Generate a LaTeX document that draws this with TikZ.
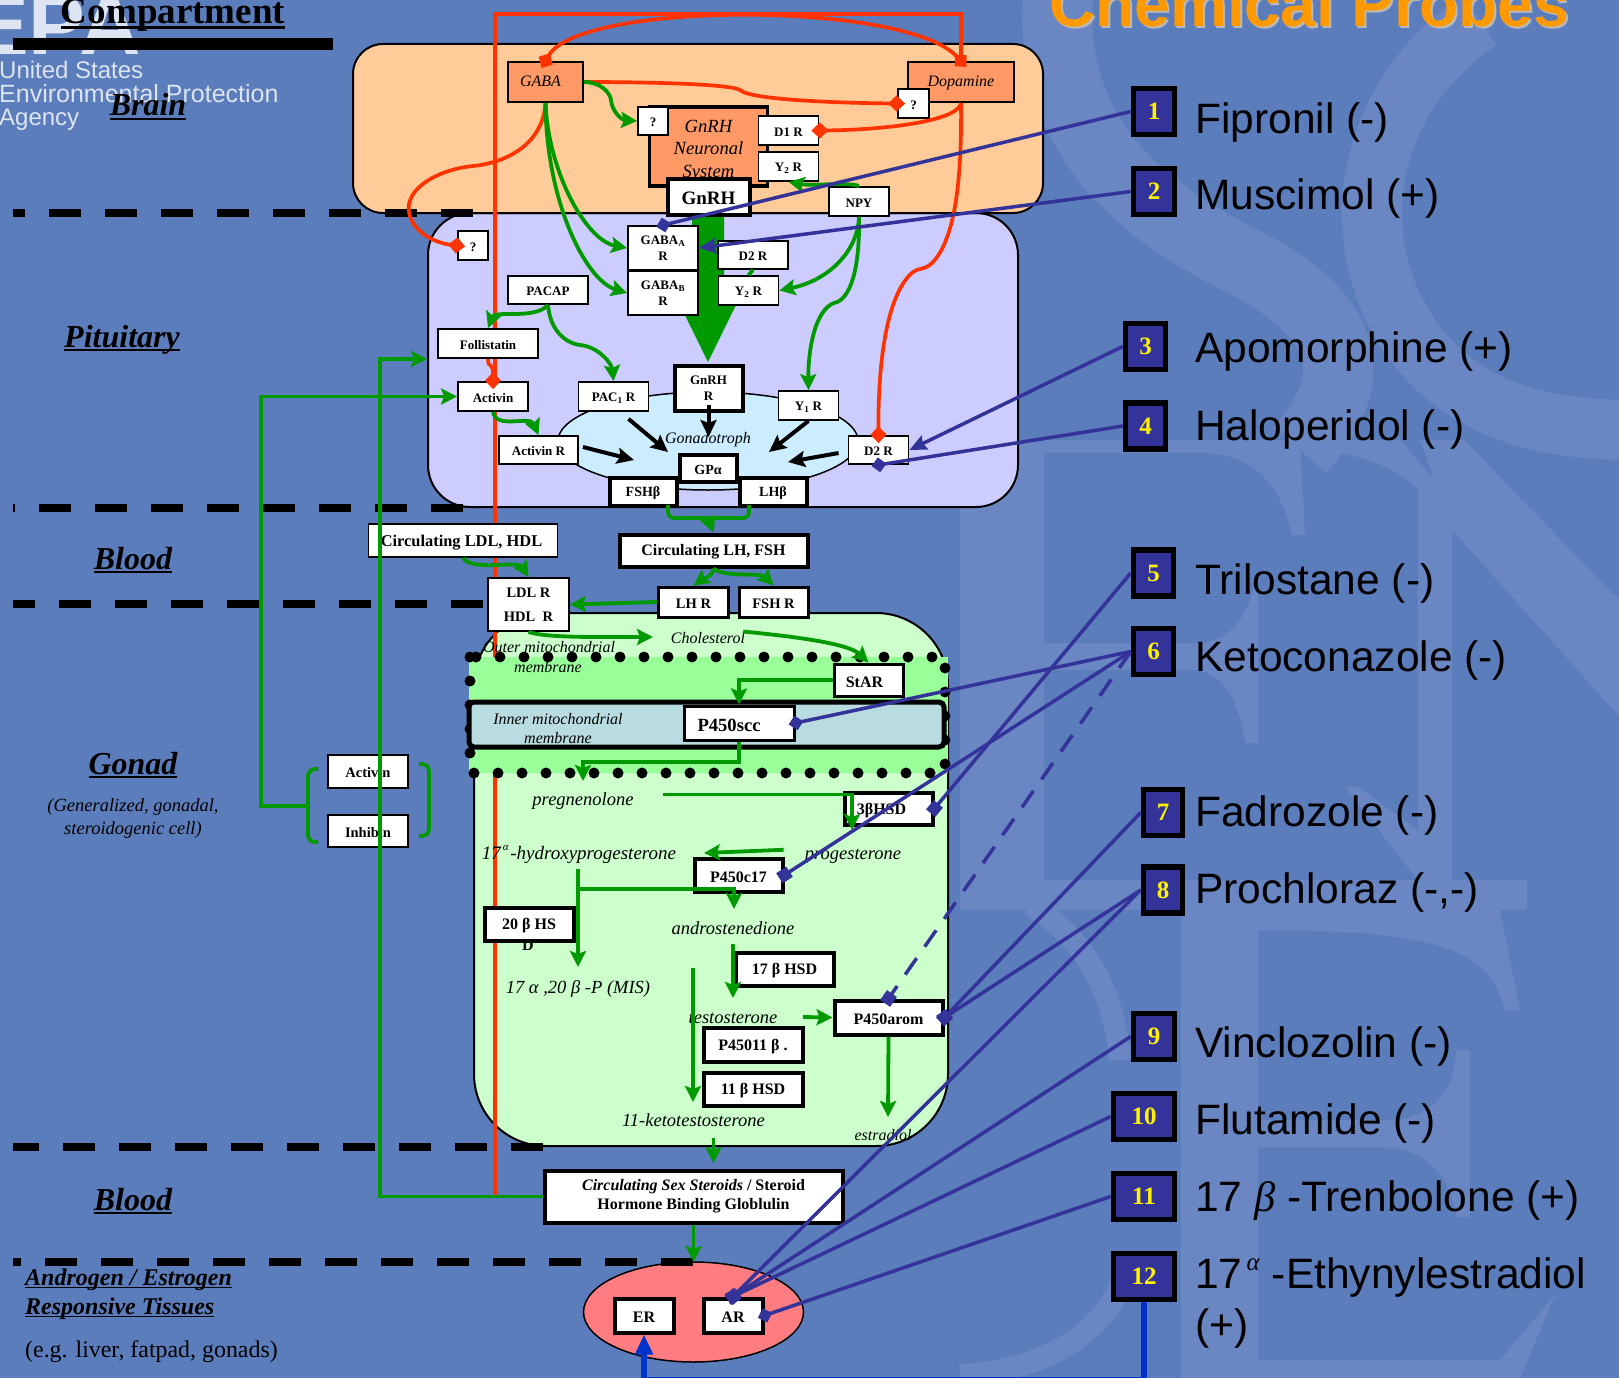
\documentclass[tikz,border=0pt]{standalone}
\usepackage{fontspec}
\setmainfont{Liberation Serif}
\newfontfamily\probefont{Liberation Sans}
\usetikzlibrary{calc,arrows.meta}

\definecolor{bgblue}{HTML}{5B7DBB}
\definecolor{wmblue}{HTML}{6A87C3}
\definecolor{brainfill}{HTML}{FFCC99}
\definecolor{pitfill}{HTML}{CCCCFF}
\definecolor{gonadfill}{HTML}{CCFFCC}
\definecolor{bandfill}{HTML}{99FF99}
\definecolor{innerfill}{HTML}{B9DCE1}
\definecolor{cellfill}{HTML}{CCECFF}
\definecolor{orangefill}{HTML}{FF9966}
\definecolor{tissuefill}{HTML}{FF7C80}
\definecolor{redline}{HTML}{FF3300}
\definecolor{greenline}{HTML}{009900}
\definecolor{probeblue}{HTML}{333399}
\definecolor{deepblue}{HTML}{0033CC}
\definecolor{logowhite}{HTML}{DDE4F2}
\definecolor{titleorange}{HTML}{FF9900}

\newcommand{\fs}[1]{\fontsize{#1}{1.2\dimexpr#1pt\relax}\selectfont}
\newcommand{\ulbox}[1]{\setbox0\hbox{#1}\rlap{\raisebox{-.13em}{\rule{\wd0}{.065em}}}\box0}

\tikzset{
  box/.style={draw=black,fill=white,line width=1.8pt,inner sep=0pt,align=center,font=\fs{13}\bfseries,
    execute at begin node={\rule{0pt}{.9em}}},
  thickbox/.style={box,line width=4pt,font=\fs{16}\bfseries},
  probebox/.style={draw=black,fill=probeblue,line width=5.5pt,inner sep=0pt,text=yellow,font=\fs{25}\bfseries},
  probelabel/.style={anchor=base west,inner sep=0pt,font=\probefont\fs{42.5}},
  seclabel/.style={anchor=base,inner sep=0pt,font=\fs{32}\bfseries\itshape},
  chem/.style={anchor=base,inner sep=0pt,font=\fs{18.5}\itshape},
  greenarrow/.style={draw=greenline,line width=3.8pt,-{Stealth[length=16pt,width=16pt,inset=3pt]}},
  greenplain/.style={draw=greenline,line width=3.8pt},
  blackarrow/.style={draw=black,line width=4pt,-{Stealth[length=17pt,width=16pt,inset=3pt]}},
  redinhibit/.style={draw=redline,line width=3.7pt,shorten >=-8pt,-{Diamond[length=17pt,width=16pt]}},
  redplain/.style={draw=redline,line width=3.7pt},
  probeline/.style={draw=probeblue,line width=3.5pt},
  probediamond/.style={probeline,shorten >=-7pt,-{Diamond[length=15pt,width=15pt]}},
  probesquare/.style={probeline,shorten >=-6pt,-{Square[length=12pt,width=12pt]}},
  probearrow/.style={probeline,-{Stealth[length=17pt,width=15pt,inset=2pt]}},
  blackdash/.style={draw=black,line width=8pt,dash pattern=on 32pt off 24pt},
  memdots/.style={draw=black,line width=11pt,line cap=round,dash pattern=on 0pt off 24pt},
  watermark/.style={draw=wmblue,line cap=butt},
}

\begin{document}
\begin{tikzpicture}[x=1pt,y=-1pt]
  \useasboundingbox (0,0) rectangle (1619,1378);
  \clip (0,0) rectangle (1619,1378);
  \fill[bgblue] (0,0) rectangle (1619,1378);

  % watermark behind everything
  \draw[watermark,line width=70pt] (1060,-20) .. controls (1040,130) and (1140,210) .. (1240,260)
    .. controls (1340,310) and (1370,370) .. (1300,450);
  \draw[watermark,line width=60pt] (1480,20) .. controls (1360,100) and (1340,250) .. (1420,350)
    .. controls (1480,420) and (1560,430) .. (1640,430);
  \fill[wmblue] (960,440) rectangle (1044,880);
  \fill[wmblue] (1044,440) -- (1300,440) -- (1305,535) -- (1292,535)
    .. controls (1280,480) and (1250,453) .. (1200,453) -- (1044,453) -- cycle;
  \fill[wmblue] (1044,643) -- (1200,643) .. controls (1235,640) and (1250,610) .. (1255,580)
    -- (1258,580) -- (1258,743) -- (1245,743) .. controls (1238,700) and (1225,670) .. (1190,670) -- (1044,670) -- cycle;
  \fill[wmblue] (1300,440) -- (1400,440) -- (1452,500) -- (1452,880) -- (1418,880) -- (1418,490)
    .. controls (1390,460) and (1340,450) .. (1300,450) -- cycle;
  \fill[wmblue] (1452,530) -- (1619,716) -- (1619,600) -- (1464,440) -- (1420,440) -- cycle;
  \fill[wmblue] (1345,787) -- (1358,787) -- (1418,830) -- (1418,880) -- cycle;

  \fill[wmblue] (960,880) rectangle (1527,910);
  \fill[wmblue] (1181,910) rectangle (1258,1378);
  \fill[wmblue] (1258,910) -- (1500,910) -- (1520,1010) -- (1505,1010)
    .. controls (1490,950) and (1440,930) .. (1258,930) -- cycle;
  \fill[wmblue] (1258,1120) -- (1400,1120) .. controls (1445,1110) and (1455,1080) .. (1456,1050)
    -- (1470,1050) -- (1470,1217) -- (1456,1217) .. controls (1450,1170) and (1420,1147) .. (1380,1147)
    -- (1258,1147) -- cycle;
  \fill[wmblue] (1258,1360) -- (1500,1360) -- (1555,1295) -- (1520,1378) -- (1258,1378) -- cycle;
  \draw[watermark,line width=22pt] (1030,905) .. controls (1090,940) and (1115,1000) .. (1120,1060);
  \draw[watermark,line width=22pt] (960,1375) .. controls (1060,1370) and (1110,1320) .. (1122,1280);

  % logo
  \node[anchor=base west,inner sep=0pt,text=logowhite,font=\probefont\fs{85}\bfseries] (logoletters) at (-28,55) {EPA};
  \node[anchor=base west,inner sep=0pt,text=logowhite,font=\probefont\fs{24}] (logoa) at (-1,79) {United States};
  \node[anchor=base west,inner sep=0pt,text=logowhite,font=\probefont\fs{25}] (logob) at (-1,103) {Environmental Protection};
  \node[anchor=base west,inner sep=0pt,text=logowhite,font=\probefont\fs{24}] (logoc) at (-1,125) {Agency};

  % compartments
  \draw[fill=pitfill,line width=2pt,rounded corners=42pt] (428,213) rectangle (1018,507);
  \draw[fill=brainfill,line width=2pt,rounded corners=30pt] (353,44) rectangle (1043,213);
  \draw[fill=gonadfill,line width=2pt,rounded corners=72pt] (474,613) rectangle (948,1146);

  \coordinate (redfoot) at (495,1196);
  \coordinate (redleft) at (495,14);
  \coordinate (redright) at (961,14);

  % red line runs under the band and the boxes
  \draw[redplain] (redfoot) -- (redleft) -- (redright) -- (961,62);

  \fill[bandfill] (469,657) rectangle (948,773);
  \draw[memdots] (470,657) rectangle (945,773);
  \draw[fill=innerfill,line width=5pt,rounded corners=5pt] (469,702) rectangle (944,747);

  \fill[cellfill,draw=black,line width=1.5pt] (708,441) ellipse [x radius=150pt,y radius=49pt];
  \fill[tissuefill,draw=black,line width=1.5pt] (693.5,1312) ellipse [x radius=110pt,y radius=50pt];

  % big GnRH arrow
  \fill[greenline] (692,214) -- (724,214) -- (724,305) -- (736,305) -- (708,362) -- (680,305) -- (692,305) -- cycle;

  % dashed borders
  \draw[blackdash,dash phase=20pt] (13,213) -- (473,213);
  \draw[blackdash,dash phase=30pt] (13,508) -- (463,508);
  \draw[blackdash,dash phase=10pt] (13,604) -- (484,604);
  \draw[blackdash,dash phase=6pt] (13,1147) -- (543,1147);
  \draw[blackdash,dash phase=24pt] (13,1262) -- (693,1262);
  \fill[black] (13,38) rectangle (333,50);

  % left column labels
  \node[anchor=base,inner sep=0pt,font=\fs{37}\bfseries] (comptitle) at (173,24) {\ulbox{Compartment}};
  \node[seclabel] (brainlab) at (148,116) {\ulbox{Brain}};
  \node[seclabel] (pitlab) at (122,347) {\ulbox{Pituitary}};
  \node[seclabel] (bloodlab) at (133,569) {\ulbox{Blood}};
  \node[seclabel] (gonadlab) at (133,774) {\ulbox{Gonad}};
  \node[anchor=base,inner sep=0pt,align=center,font=\fs{18.5}\itshape] (gonadsub) at (133,811) {(Generalized, gonadal,};
  \node[anchor=base,inner sep=0pt,align=center,font=\fs{18.5}\itshape] (gonadsubb) at (133,834) {steroidogenic cell)};
  \node[seclabel] (bloodlabb) at (133,1210) {\ulbox{Blood}};
  \node[anchor=base west,inner sep=0pt,font=\fs{24}\bfseries\itshape] (tissuelab) at (25,1285) {\ulbox{Androgen / Estrogen}};
  \node[anchor=base west,inner sep=0pt,font=\fs{24}\bfseries\itshape] (tissuelabb) at (25,1314) {\ulbox{Responsive Tissues}};
  \node[anchor=base west,inner sep=0pt,font=\fs{23.9}] (tissuesub) at (25,1357) {(e.g. liver, fatpad, gonads)};

  % brain
  \node[box,fill=orangefill,minimum width=75pt,minimum height=40pt,font=\fs{16}\itshape,execute at begin node={}] (gaba) at (545.5,82) {\raisebox{3pt}{GABA}\hspace*{10pt}};
  \node[box,fill=orangefill,minimum width=106pt,minimum height=40pt,font=\fs{16}\itshape,execute at begin node={}] (dopamine) at (961,82) {\raisebox{2pt}{Dopamine}};
  \node[box,fill=orangefill,line width=3.5pt,minimum width=118pt,minimum height=79pt,font=\fs{18.6}\itshape,
    execute at begin node={\baselineskip=22.5pt}] (gnrhsys) at (708.5,146.5) {\rule{0pt}{21pt}GnRH\\Neuronal\\System};
  \node[box,minimum width=31pt,minimum height=29pt] (qdopa) at (913.5,103.5) {?};
  \node[box,minimum width=30pt,minimum height=28pt] (qgnrh) at (653,121) {?};
  \node[box,minimum width=60pt,minimum height=29pt] (dar) at (788.5,130.5) {D1 R};
  \node[box,minimum width=60pt,minimum height=29pt] (ytr) at (788.5,166.5) {Y\textsubscript{2} R};
  \node[thickbox,minimum width=82pt,minimum height=36pt,font=\fs{19}\bfseries] (gnrh) at (708.5,196.5) {GnRH};
  \node[box,minimum width=60pt,minimum height=29pt] (npy) at (859,201.5) {NPY};

  % pituitary
  \node[box,minimum width=30pt,minimum height=29pt] (qpit) at (473,245.5) {?};
  \node[box,minimum width=70pt,minimum height=44pt] (gabaa) at (663,248) {GABA\textsubscript{A}\\R};
  \node[box,minimum width=70pt,minimum height=44pt] (gabab) at (663,293) {GABA\textsubscript{B}\\R};
  \node[box,minimum width=70pt,minimum height=28pt] (dtr) at (753,255) {D2 R};
  \node[box,minimum width=60pt,minimum height=29pt] (ytrb) at (748.5,290.5) {Y\textsubscript{2} R};
  \node[box,minimum width=80pt,minimum height=28pt] (pacap) at (548,290) {PACAP};
  \node[box,minimum width=100pt,minimum height=29pt] (follistatin) at (488,343.5) {Follistatin};
  \node[box,minimum width=70pt,minimum height=29pt] (activin) at (493,396.5) {Activin};
  \node[box,minimum width=70pt,minimum height=29pt] (pacr) at (613.5,396.5) {PAC\textsubscript{1} R};
  \node[box,line width=4pt,minimum width=68pt,minimum height=45pt] (gnrhr) at (708.5,388) {GnRH\\R};
  \node[box,minimum width=60pt,minimum height=29pt] (yor) at (808.5,405.5) {Y\textsubscript{1} R};
  \node[box,minimum width=79pt,minimum height=28pt] (activinr) at (538.5,450) {Activin R};
  \node[box,minimum width=60pt,minimum height=28pt] (dtrb) at (878.5,450) {D2 R};
  \node[thickbox,minimum width=67pt,minimum height=28pt,font=\fs{14}\bfseries] (fshb) at (643,491.5) {FSHβ};
  \node[thickbox,minimum width=67pt,minimum height=28pt,font=\fs{14}\bfseries] (lhb) at (773,491.5) {LHβ};
  \node[thickbox,minimum width=57pt,minimum height=27pt,font=\fs{14}\bfseries] (gpa) at (708,468) {GPα};
  \node[anchor=center,inner sep=0pt,font=\fs{16}\itshape] (gonadotroph) at (708,440) {Gonadotroph};

  % blood and gonad
  \node[box,minimum width=189pt,minimum height=33pt,font=\fs{16.4}\bfseries] (ldlhdl) at (463,540.5) {Circulating LDL, HDL\hspace*{3pt}};
  \node[thickbox,minimum width=188pt,minimum height=32pt] (lhfsh) at (713.5,550.5) {Circulating LH, FSH};
  \node[box,minimum width=81pt,minimum height=53pt,font=\fs{14.5}\bfseries,
    execute at begin node={\baselineskip=24pt}] (ldlr) at (528.5,604.5) {LDL R\\HDL\ \ R};
  \node[thickbox,line width=3pt,minimum width=70pt,minimum height=30pt,font=\fs{14.5}\bfseries] (lhr) at (693.5,602) {LH R};
  \node[thickbox,line width=3pt,minimum width=69pt,minimum height=30pt,font=\fs{14.5}\bfseries] (fshr) at (773.5,602) {FSH R};
  \node[chem,font=\fs{16}\itshape] (cholesterol) at (708,643) {Cholesterol};
  \node[chem,font=\fs{16}\itshape] (outermem) at (549,652) {Outer mitochondrial};
  \node[chem,font=\fs{16}\itshape] (outermemb) at (548,672) {membrane};
  \node[thickbox,line width=3pt,minimum width=69pt,minimum height=32pt] (star) at (868.5,680) {StAR\hspace*{8pt}};
  \node[chem,font=\fs{16}\itshape] (innermem) at (558,724) {Inner mitochondrial};
  \node[chem,font=\fs{16}\itshape] (innermemb) at (558,743) {membrane};
  \node[thickbox,line width=3pt,minimum width=110pt,minimum height=34pt,font=\fs{18.6}\bfseries] (pscc) at (739,723) {P450scc\hspace*{20pt}};
  \node[box,minimum width=80pt,minimum height=33pt,font=\fs{14.5}\bfseries] (activinb) at (368,771.5) {Activin};
  \node[box,minimum width=80pt,minimum height=32pt,font=\fs{14.5}\bfseries] (inhibin) at (368,831) {Inhibin};
  \node[chem] (pregnenolone) at (583,805) {pregnenolone};
  \node[thickbox,minimum width=88pt,minimum height=32pt] (hsdb) at (888.5,808.5) {3βHSD\hspace*{14pt}};
  \node[chem,font=\fs{19}\itshape] (hydroxy) at (579,859) {17\raisebox{.45em}{\fs{11}\,α\,}-hydroxyprogesterone};
  \node[chem] (progest) at (853,859) {progesterone};
  \node[thickbox,minimum width=88pt,minimum height=33pt] (pcs) at (738.5,875) {P450c17};
  \node[chem] (androst) at (733,934) {androstenedione};
  \node[thickbox,minimum width=89pt,minimum height=33pt] (hsdtw) at (529,924) {20 β HS};
  \node[inner sep=0pt,font=\fs{16}\bfseries] (hsdtwd) at (528,945) {D};
  \node[thickbox,minimum width=98pt,minimum height=33pt] (hsds) at (784.5,969) {17 β HSD};
  \node[chem] (mis) at (578,993) {17 α ,20 β -P (MIS)};
  \node[chem] (testost) at (733,1023) {testosterone};
  \node[thickbox,minimum width=108pt,minimum height=34pt] (parom) at (888.5,1017.5) {P450arom};
  \node[thickbox,minimum width=99pt,minimum height=34pt] (pcel) at (753,1044.5) {P45011 β .};
  \node[thickbox,minimum width=99pt,minimum height=33pt] (hsdel) at (753,1089) {11 β HSD};
  \node[chem] (keto) at (693.5,1126) {11-ketotestosterone};
  \node[chem,font=\fs{16}\itshape] (estradiol) at (883,1140) {estradiol};

  % sex steroids and target tissue
  \node[thickbox,minimum width=298pt,minimum height=52pt] (steroids) at (693.5,1196.5)
    {\textit{Circulating Sex Steroids} / Steroid\\Hormone Binding Globlulin};
  \node[thickbox,minimum width=59pt,minimum height=34pt] (er) at (644,1315.5) {ER};
  \node[thickbox,minimum width=59pt,minimum height=34pt] (ar) at (733,1315.5) {AR};

  % probes
  \node[probebox,minimum width=41pt,minimum height=46pt] (probea) at (1154,111.5) {1};
  \node[probebox,minimum width=41pt,minimum height=46pt] (probeb) at (1154,191.5) {2};
  \node[probebox,minimum width=40pt,minimum height=46pt] (probec) at (1145.5,346.5) {3};
  \node[probebox,minimum width=40pt,minimum height=46pt] (probed) at (1145.5,426) {4};
  \node[probebox,minimum width=40pt,minimum height=46pt] (probee) at (1153.5,573) {5};
  \node[probebox,minimum width=40pt,minimum height=46pt] (probef) at (1153.5,651.5) {6};
  \node[probebox,minimum width=39pt,minimum height=46pt] (probeg) at (1163,812.5) {7};
  \node[probebox,minimum width=39pt,minimum height=46pt] (probeh) at (1163,890) {8};
  \node[probebox,minimum width=41pt,minimum height=46pt] (probei) at (1154,1036.5) {9};
  \node[probebox,minimum width=61pt,minimum height=46pt] (probej) at (1144,1116.5) {10};
  \node[probebox,minimum width=61pt,minimum height=46pt] (probek) at (1144,1196.5) {11};
  \node[probebox,minimum width=61pt,minimum height=46pt] (probel) at (1144,1276.5) {12};

  \node[probelabel] (fipronil) at (1195,133) {Fipronil (-)};
  \node[probelabel] (muscimol) at (1195,209) {Muscimol (+)};
  \node[probelabel] (apomorph) at (1195,362) {Apomorphine (+)};
  \node[probelabel] (haloper) at (1195,440) {Haloperidol (-)};
  \node[probelabel] (trilost) at (1195,594) {Trilostane (-)};
  \node[probelabel] (ketocon) at (1195,671) {Ketoconazole (-)};
  \node[probelabel] (fadroz) at (1195,826) {Fadrozole (-)};
  \node[probelabel] (prochl) at (1195,903) {Prochloraz (-,-)};
  \node[probelabel] (vincloz) at (1195,1057) {Vinclozolin (-)};
  \node[probelabel] (flutam) at (1195,1134) {Flutamide (-)};
  \node[probelabel] (trenb) at (1195,1211) {17 {\rmfamily\itshape β} -Trenbolone (+)};
  \node[probelabel] (ethyn) at (1195,1288) {17\raisebox{.42em}{\rmfamily\itshape\fs{25}\,α\,}\hspace*{8pt}-Ethynylestradiol};
  \node[probelabel] (ethynb) at (1195,1339) {(+)};

  \node[anchor=base,inner sep=0pt,text=gray!55,font=\probefont\fs{64}\bfseries] (titleshadow) at (1311,29) {Chemical Probes};
  \node[anchor=base,inner sep=0pt,text=titleorange,font=\probefont\fs{64}\bfseries] (chemtitle) at (1309,27) {Chemical Probes};

  % red connectors
  \draw[redinhibit,{Diamond[length=17pt,width=16pt]}-{Diamond[length=17pt,width=16pt]},shorten <=-8pt] (gaba.north) .. controls (580,1) and (905,1) .. (dopamine.north);
  \draw[redinhibit] (gaba.south) .. controls (543,145) and (505,163) .. (473,166)
    .. controls (435,170) and (405,190) .. (409,212) .. controls (412,232) and (435,243) .. (qpit.west);
  \draw[redinhibit] (gaba.east) .. controls (650,82) and (730,84) .. (740,90)
    .. controls (750,100) and (840,103) .. (qdopa.west);
  \draw[redinhibit] (dopamine.south) .. controls (958,122) and (880,130) .. (dar.east);
  \draw[redinhibit] (dopamine.south) .. controls (962,180) and (955,240) .. (932,263)
    .. controls (925,270) and (918,268) .. (913,272) .. controls (885,295) and (878,370) .. (dtrb.north);
  \draw[redinhibit] (follistatin.south) .. controls (488,370) and (493,360) .. (activin.north);

  % green connectors in the brain and the pituitary
  \draw[greenarrow] (gaba.east) .. controls (600,82) and (610,92) .. (611,100)
    .. controls (612,112) and (622,120) .. (qgnrh.west);
  \draw[greenarrow] (gaba.south) .. controls (548,170) and (585,240) .. (gabaa.west);
  \draw[greenarrow] (gaba.south) .. controls (546,200) and (585,280) .. (gabab.west);
  \draw[greenarrow] (npy.north) .. controls (850,182) and (810,186) .. (ytr.south);
  \draw[greenarrow] (npy.south) .. controls (858,250) and (830,280) .. (ytrb.east);
  \draw[greenarrow] (npy.south) .. controls (860,270) and (850,300) .. (834,303)
    .. controls (815,310) and (808,350) .. (yor.north);
  \draw[greenplain] (dtr.south) -- (ytrb.north);
  \draw[greenarrow] (pacap.south) .. controls (535,320) and (495,310) .. (follistatin.north);
  \draw[greenarrow] (pacap.south) .. controls (550,330) and (565,343) .. (580,345)
    .. controls (600,347) and (612,365) .. (pacr.north);
  \draw[greenarrow] (activin.south) .. controls (496,430) and (530,415) .. (activinr.north);

  % black arrows in the gonadotroph
  \draw[blackarrow] (gnrhr.south) ++(0,-8) -- (708.5,437);
  \draw[blackarrow] (pacr.south) ++(15,7) -- (668,452);
  \draw[blackarrow] (yor.south) -- (769,452);
  \draw[blackarrow] (activinr.east) ++(4,-3) -- (634,460);
  \draw[blackarrow] (dtrb.west) ++(-9,3) -- (788,462);

  % bracket from FSH and LH
  \coordinate (fsbranch) at (708,518);
  \draw[greenplain,rounded corners=6pt] (668,505) |- (fsbranch) -| (749,505);
  \draw[greenarrow] (fsbranch) -- (lhfsh.north);

  % green connectors in the blood and the gonad
  \draw[greenarrow] (lhfsh.south) .. controls (712,578) and (704,578) .. (lhr.north);
  \draw[greenarrow] (lhfsh.south) .. controls (725,578) and (760,572) .. (fshr.north);
  \draw[greenarrow] (ldlhdl.south) .. controls (472,572) and (518,560) .. (ldlr.north);
  \draw[greenarrow] (lhr.west) -- (ldlr.east);
  \draw[greenarrow] (ldlr.south) .. controls (545,638) and (600,637) .. (653,637);
  \draw[greenarrow] (cholesterol.east) ++(-2,-6) .. controls (810,638) and (850,645) .. (star.north);
  \draw[greenarrow] (star.west) -| (pscc.north);
  \draw[greenarrow] (pscc.south) |- (583,762) -- (583,781);
  \draw[greenarrow] (pregnenolone.east) ++(29,-6) -| (852,830);
  \draw[greenarrow] (progest.west) ++(-21,-6) -- (704,853);
  \draw[greenarrow] (578,869) -- (578,967);
  \draw[greenarrow] (578,889) -| (734,909);
  \draw[greenarrow] (733,944) -- (733,998);
  \draw[greenarrow] (693,968) -- (693,1102);
  \draw[greenarrow] (803,1017) -- (parom.west);
  \draw[greenarrow] (parom.south) -- (888,1117);
  \draw[greenarrow] (713.5,1138) -- (713.5,1163);
  \draw[greenarrow] (steroids.south) -- (693.5,1262);

  % activin and inhibin feed back
  \draw[greenplain,rounded corners=7pt] (318,769) -| (308,842) -- (318,842);
  \draw[greenplain,rounded corners=7pt] (419,764) -| (429,836) -- (419,836);
  \draw[greenarrow] (308,806) -| (261,396.5) -- (activin.west);
  \draw[greenarrow] (steroids.west) -| (380,359) -- (427,359);

  % probe connectors
  \draw[probediamond] (probea.west) -- (gabaa.north);
  \draw[probearrow] (probeb.west) -- (gabaa.east);
  \draw[probearrow] (probec.west) -- (dtrb.east);
  \draw[probediamond] (probed.west) -- (dtrb.south);
  \draw[probesquare] (probee.west) -- (hsdb.east);
  \draw[probediamond] (probef.west) -- (pscc.east);
  \draw[probesquare] (probef.west) -- (pcs.east);
  \draw[probesquare,dashed,dash pattern=on 20pt off 14pt] (probef.west) -- (parom.north);
  \draw[probesquare] (probeg.west) -- (parom.east);
  \draw[probesquare] (probeh.west) -- (parom.east);
  \draw[probesquare] (probeh.west) -- (ar.north);
  \draw[probesquare] (probei.west) -- (ar.north);
  \draw[probesquare] (probej.west) -- (ar.north);
  \draw[probediamond] (probek.west) -- (ar.east);
  \draw[draw=deepblue,line width=6pt,-{Stealth[length=20pt,width=17pt,inset=0pt]}] (probel.south) -- (1144,1380) -| (er.south);
\end{tikzpicture}
\end{document}
